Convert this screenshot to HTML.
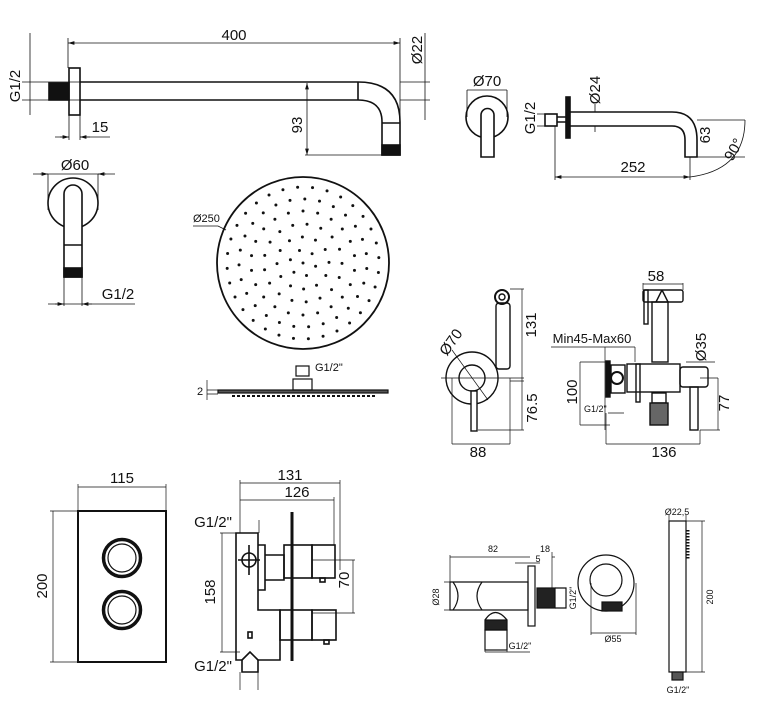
<!DOCTYPE html>
<html><head><meta charset="utf-8"><style>
html,body{margin:0;padding:0;background:#fff;width:760px;height:702px;overflow:hidden}
svg{display:block}
text{font-family:"Liberation Sans",sans-serif;fill:#111}
.t{font-size:15px}.s{font-size:9px}.m{font-size:11px}
</style></head><body>
<svg width="760" height="702" viewBox="0 0 760 702" xmlns="http://www.w3.org/2000/svg">
<defs><marker id="a" viewBox="0 0 10 6" refX="10" refY="3" markerWidth="8" markerHeight="5" orient="auto-start-reverse"><path d="M0,0L10,3L0,6z" fill="#111"/></marker></defs>
<g stroke="#111" fill="none" stroke-width="1.6">
<rect x="69" y="68" width="11" height="47"/>
<rect x="49" y="83" width="20" height="17" fill="#111"/>
<path d="M80,82H358Q400,82 400,122V155H382V122Q382,100 358,100H80"/>
<path d="M358,82V100M382,123H400"/>
<rect x="382" y="145" width="18" height="10" fill="#111"/>
</g>
<g stroke="#111" fill="none" stroke-width="0.8">
<path d="M68,43H400" marker-start="url(#a)" marker-end="url(#a)"/>
<path d="M68,38V68M400,38V145M30,33V115M22,82H80M22,100H80M425,33V120M400,82H430M400,100H430"/>
<path d="M55,137H69M80,137H110" /><path d="M60,137H69" marker-end="url(#a)"/><path d="M90,137H80" marker-end="url(#a)"/>
<path d="M69,115V140M80,115V140"/>
<path d="M307,83V155" marker-start="url(#a)" marker-end="url(#a)"/><path d="M305,155H382"/>
<path d="M33,174H115M48,174V210M98,174V210"/><path d="M40,174H48" marker-end="url(#a)"/><path d="M106,174H98" marker-end="url(#a)"/>
<path d="M48,304H135M64,277V306M82,277V306"/><path d="M55,304H64" marker-end="url(#a)"/><path d="M92,304H82" marker-end="url(#a)"/>
</g>
<g stroke="#111" fill="none" stroke-width="1.6">
<circle cx="73" cy="203" r="25"/>
<path d="M64,277V194A9,9 0 0 1 82,194V277Z" fill="#fff"/>
<path d="M64,245H82"/>
<rect x="64" y="268" width="18" height="9" fill="#111"/>
</g>
<text class="t" x="20" y="86" transform="rotate(-90 20 86)" text-anchor="middle">G1/2</text>
<text class="t" x="234" y="40" text-anchor="middle">400</text>
<text class="t" x="422" y="50" transform="rotate(-90 422 50)" text-anchor="middle">Ø22</text>
<text class="t" x="100" y="132" text-anchor="middle">15</text>
<text class="t" x="302" y="125" transform="rotate(-90 302 125)" text-anchor="middle">93</text>
<text class="t" x="75" y="170" text-anchor="middle">Ø60</text>
<text class="t" x="118" y="299" text-anchor="middle">G1/2</text>
<circle cx="303" cy="263" r="86" stroke="#111" stroke-width="1.8" fill="none"/>
<g id="dots" fill="#111"></g>
<path d="M193,226H218L226,230" stroke="#111" stroke-width="0.8" fill="none"/>
<text class="m" x="193" y="222">Ø250</text>
<g stroke="#111" fill="none" stroke-width="1.2">
<rect x="218" y="390" width="170" height="3" fill="#555"/>
<path d="M232,396H375" stroke-width="2" stroke-dasharray="3,2"/>
<rect x="293" y="379" width="19" height="11"/>
<rect x="296" y="366" width="13" height="10"/>
<path d="M207,380V400M207,390H218M207,394H218" stroke-width="0.7"/>
</g>
<text class="m" x="200" y="395" text-anchor="middle">2</text>
<text class="m" x="315" y="371">G1/2"</text>
<g stroke="#111" fill="none" stroke-width="1.6">
<circle cx="487" cy="117" r="21"/>
<path d="M481,157V115A6.5,6.5 0 0 1 494,115V157Z" fill="#fff"/>
<rect x="545" y="114" width="12" height="12"/>
<rect x="566" y="97" width="4" height="41" fill="#111"/>
<path d="M570,112H672Q697,112 697,140V157H685V140Q685,126 672,126H570M557,117H566M557,122H566"/>
</g>
<g stroke="#111" fill="none" stroke-width="0.8">
<path d="M467,90H507M467,90V117M507,90V117"/>
<path d="M537,114H545M537,126H545M555,126V180M690,157V180M697,120H745M697,157H745"/>
<path d="M555,177H690" marker-start="url(#a)" marker-end="url(#a)"/>
<path d="M745,120Q745,170 690,177"/>
<path d="M595,104V112M595,126V132"/>
</g>
<text class="t" x="487" y="86" text-anchor="middle">Ø70</text>
<text class="t" x="535" y="118" transform="rotate(-90 535 118)" text-anchor="middle">G1/2</text>
<text class="t" x="600" y="90" transform="rotate(-90 600 90)" text-anchor="middle">Ø24</text>
<text class="t" x="633" y="172" text-anchor="middle">252</text>
<text class="t" x="710" y="135" transform="rotate(-90 710 135)" text-anchor="middle">63</text>
<text class="t" x="738" y="152" transform="rotate(-60 738 152)" text-anchor="middle">90°</text>
<g stroke="#111" fill="none" stroke-width="1.4">
<circle cx="472" cy="378" r="26"/>
<circle cx="472" cy="378" r="13"/>
<rect x="471" y="391" width="6" height="40" fill="#fff"/>
<rect x="496" y="303" width="14" height="66" rx="3" fill="#fff"/>
<circle cx="502" cy="297" r="7" stroke-width="2"/>
<circle cx="502" cy="297" r="3"/>
</g>
<g stroke="#111" fill="none" stroke-width="0.7">
<path d="M510,289H524M522,289V430M510,381H524M478,430H524M452,378V444M510,378V444M452,444H510M441,378H524M452,350L488,400"/>
</g>
<text class="t" x="536" y="325" transform="rotate(-90 536 325)" text-anchor="middle">131</text>
<text class="t" x="537" y="408" transform="rotate(-90 537 408)" text-anchor="middle">76.5</text>
<text class="t" x="478" y="457" text-anchor="middle">88</text>
<text class="t" x="455" y="345" transform="rotate(-55 455 345)" text-anchor="middle">Ø70</text>
<g stroke="#111" fill="none" stroke-width="1.4">
<rect x="643" y="290" width="40" height="12" rx="2"/>
<path d="M656,302L662,290M668,302L662,290"/>
<rect x="644" y="290" width="4" height="34"/>
<rect x="652" y="302" width="16" height="60"/>
<rect x="627" y="364" width="53" height="28"/>
<rect x="680" y="367" width="28" height="20" rx="3"/>
<rect x="690" y="387" width="8" height="43"/>
<rect x="606" y="361" width="4" height="36" fill="#111"/>
<rect x="611" y="365" width="14" height="28"/>
<circle cx="617" cy="378" r="6" stroke-width="2"/>
<rect x="636" y="364" width="4" height="38"/>
<rect x="652" y="393" width="14" height="10"/>
<rect x="650" y="403" width="18" height="22" fill="#666"/>
</g>
<g stroke="#111" fill="none" stroke-width="0.7">
<path d="M643,283V290M683,283V290M643,284H683M551,347H635M605,347V430M635,347V362M580,362H610M580,425H610M580,362V425M606,430V444M700,430V444M606,444H700M686,362H715M700,378H718M700,430H720M718,378V430M606,413V438M608,413H624"/>
</g>
<text class="t" x="656" y="281" text-anchor="middle">58</text>
<text class="m" x="592" y="343" text-anchor="middle" style="font-size:13px">Min45-Max60</text>
<text class="t" x="577" y="392" transform="rotate(-90 577 392)" text-anchor="middle">100</text>
<text class="s" x="584" y="412">G1/2"</text>
<text class="t" x="664" y="457" text-anchor="middle">136</text>
<text class="t" x="706" y="347" transform="rotate(-90 706 347)" text-anchor="middle">Ø35</text>
<text class="t" x="729" y="403" transform="rotate(-90 729 403)" text-anchor="middle">77</text>
<g stroke="#111" fill="none">
<rect x="78" y="511" width="88" height="151" stroke-width="2"/>
<circle cx="122" cy="558" r="18.5" stroke-width="3.5"/><circle cx="122" cy="558" r="14" stroke-width="1.2"/>
<circle cx="122" cy="610" r="18.5" stroke-width="3.5"/><circle cx="122" cy="610" r="14" stroke-width="1.2"/>
<path d="M78,487H166M78,484V511M166,484V511M50,511H78M50,662H78M53,511V662" stroke-width="0.7"/>
</g>
<text class="t" x="122" y="483" text-anchor="middle">115</text>
<text class="t" x="47" y="586" transform="rotate(-90 47 586)" text-anchor="middle">200</text>
<g stroke="#111" fill="none" stroke-width="1.6">
<path d="M240,533H258V610H280V660H258V672H242V660H236V610H236V533Z"/>
<path d="M258,545H265V590H258M265,555H284V580H265"/>
<rect x="284" y="545" width="28" height="33"/><rect x="312" y="545" width="23" height="33"/>
<rect x="280" y="610" width="32" height="30"/><rect x="312" y="610" width="24" height="30"/>
<circle cx="249" cy="560" r="7"/><path d="M249,545V575M238,560H260"/>
<path d="M292,512V661" stroke-width="3"/>
<rect x="248" y="632" width="4" height="6"/>
<path d="M242,660L250,652L258,660"/>
<rect x="320" y="578" width="5" height="4"/><rect x="324" y="640" width="5" height="4"/>
</g>
<g stroke="#111" fill="none" stroke-width="0.7">
<path d="M240,483H340M240,500H334M240,480V533M340,480V570M334,497V545M220,533H240M220,652H240M222,533V652M312,560H355M312,613H355M353,560V613M240,522V533M259,520V533M240,672V690M258,672V690"/>
</g>
<text class="t" x="290" y="480" text-anchor="middle">131</text>
<text class="t" x="297" y="497" text-anchor="middle">126</text>
<text class="t" x="213" y="527" text-anchor="middle">G1/2"</text>
<text class="t" x="213" y="671" text-anchor="middle">G1/2"</text>
<text class="t" x="215" y="592" transform="rotate(-90 215 592)" text-anchor="middle">158</text>
<text class="t" x="349" y="580" transform="rotate(-90 349 580)" text-anchor="middle">70</text>
<g stroke="#111" fill="none" stroke-width="1.2">
<path d="M450,582H528V610H450Z"/>
<path d="M453,582Q463,596 453,610M482,582Q472,596 482,610"/>
<rect x="528" y="566" width="7" height="60"/>
<rect x="537" y="588" width="18" height="20" fill="#222"/>
<path d="M555,588H566V608H555"/>
<path d="M485,620Q495,605 507,620"/>
<rect x="485" y="620" width="22" height="10" fill="#222"/>
<rect x="485" y="630" width="22" height="20"/>
<circle cx="606" cy="583" r="28"/>
<circle cx="606" cy="580" r="16"/>
<rect x="602" y="602" width="20" height="9" fill="#222"/>
<rect x="669" y="521" width="17" height="151"/>
<rect x="672" y="672" width="11" height="8" fill="#555"/>
</g>
<g stroke="#111" fill="none" stroke-width="0.7">
<path d="M450,557H530M450,555V582M552,557H555M552,552V588M515,563H540M485,650V652M507,620V652M485,652H530M591,583V635M636,583V635M591,633H636M686,521H705M686,672H705M702,521V672M669,515V521M686,515V521M444,582H450M444,610H450"/>
<path d="M688,530V560" stroke-width="3" stroke-dasharray="1.5,1.5"/>
</g>
<text class="s" x="493" y="552" text-anchor="middle">82</text>
<text class="s" x="545" y="552" text-anchor="middle">18</text>
<text class="s" x="538" y="562" text-anchor="middle">5</text>
<text class="s" x="439" y="597" transform="rotate(-90 439 597)" text-anchor="middle">Ø28</text>
<text class="s" x="576" y="598" transform="rotate(-90 576 598)" text-anchor="middle">G1/2"</text>
<text class="s" x="520" y="649" text-anchor="middle">G1/2"</text>
<text class="s" x="613" y="642" text-anchor="middle">Ø55</text>
<text class="s" x="677" y="515" text-anchor="middle">Ø22,5</text>
<text class="s" x="713" y="597" transform="rotate(-90 713 597)" text-anchor="middle">200</text>
<text class="s" x="678" y="693" text-anchor="middle">G1/2"</text>
</svg>
<script>
(function(){var g=document.getElementById('dots'),ns='http://www.w3.org/2000/svg',cx=303,cy=263;
var rings=[[0,1],[13,6],[26,12],[39,17],[52,22],[64,27],[76,32]];
rings.forEach(function(r,i){for(var k=0;k<r[1];k++){var a=2*Math.PI*k/r[1]+i*0.25;var c=document.createElementNS(ns,'circle');c.setAttribute('cx',cx+r[0]*Math.cos(a));c.setAttribute('cy',cy+r[0]*Math.sin(a));c.setAttribute('r',1.5);g.appendChild(c);}});})();
</script>
</body></html>
